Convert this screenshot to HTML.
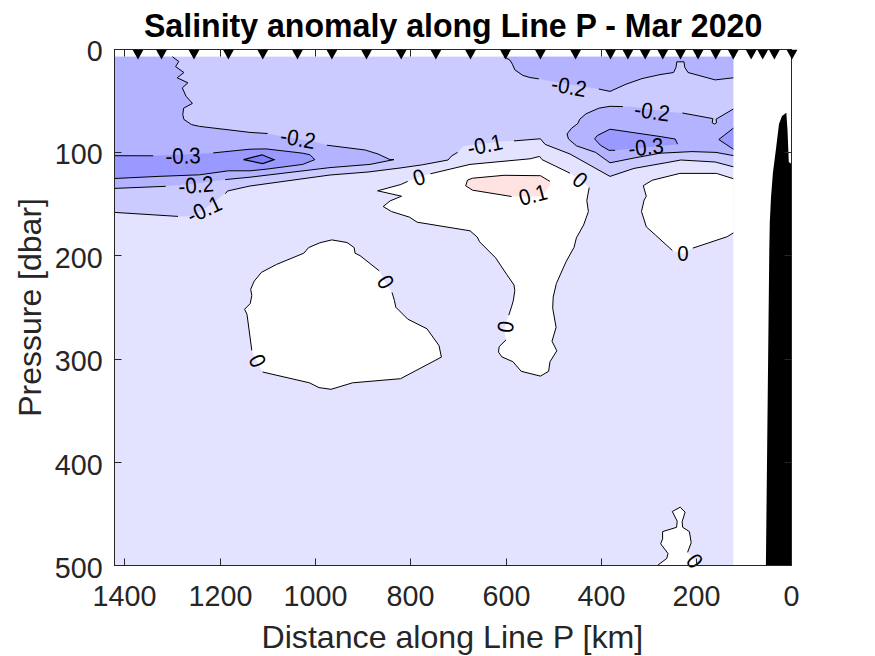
<!DOCTYPE html>
<html><head><meta charset="utf-8"><style>
html,body{margin:0;padding:0;background:#fff;width:875px;height:656px;overflow:hidden}
svg{display:block}
text{font-family:"Liberation Sans",sans-serif}
</style></head><body>
<svg width="875" height="656" viewBox="0 0 875 656">
<rect x="114.5" y="56.7" width="618.8" height="508.59999999999997" fill="#E3E3FF"/>
<polygon points="114.5,56.7 733.3,56.7 733.3,166.8 715.2,162.0 680.8,160.0 670.0,162.0 634.0,168.4 610.0,176.4 570.0,154.0 545.2,144.4 540.4,138.8 530.0,139.6 514.0,140.9 502.0,141.2 463.6,146.0 457.6,152.4 451.5,156.0 448.0,160.0 422.4,164.8 400.0,168.0 368.0,172.0 330.0,175.0 250.0,186.0 240.0,188.2 227.5,191.0 225.4,193.7 225.2,193.2 207.6,206.8 190.0,216.4 178.0,216.4 114.5,212.4" fill="#CBCBFF"/>
<polygon points="114.5,56.7 172.4,56.7 178.8,61.5 175.6,66.6 183.9,72.5 177.2,77.8 187.9,82.8 182.3,87.9 186.0,96.2 192.4,103.4 183.6,108.2 182.8,114.6 183.9,119.4 191.6,124.6 199.6,126.4 250.0,132.4 267.6,133.5 280.0,136.0 316.0,142.0 326.8,145.2 365.2,150.0 378.0,154.0 390.0,159.6 394.0,159.6 390.0,160.4 370.0,164.4 330.0,167.6 250.0,177.2 225.2,179.6 200.0,183.0 165.7,186.3 114.5,188.4" fill="#B3B3FF"/>
<polygon points="503.9,56.7 510.0,60.2 512.4,64.2 514.8,69.8 522.8,75.4 530.0,77.5 538.8,78.9 551.0,81.0 586.0,87.0 598.8,89.0 610.0,91.4 626.0,84.2 642.0,78.6 660.0,74.6 673.6,72.5 676.0,67.4 676.8,61.8 684.0,61.8 684.8,67.4 688.0,72.5 715.2,79.9 733.3,77.8 733.3,56.7" fill="#B3B3FF"/>
<polygon points="622.8,106.6 610.0,106.3 598.8,108.2 586.0,113.8 579.6,119.4 578.0,123.4 571.6,128.2 567.0,134.0 568.5,139.0 576.4,145.8 595.6,152.4 610.0,162.8 634.0,158.0 660.0,153.2 692.0,151.6 716.0,152.4 733.3,155.6 733.3,109.0 716.0,119.2 716.6,122.8 714.4,124.0 712.2,122.8 712.8,118.6 682.4,113.0 670.0,112.0 634.0,107.0" fill="#B3B3FF"/>
<polygon points="114.5,155.7 153.2,155.8 183.0,154.5 213.2,152.9 250.0,149.2 266.0,148.9 302.8,153.2 310.0,154.8 314.8,159.6 302.8,164.4 266.0,169.2 250.0,170.8 228.4,170.8 199.6,174.8 158.0,176.4 114.5,178.5" fill="#9999FF"/>
<polygon points="610.0,129.2 660.0,136.5 675.2,139.0 677.6,144.2 615.1,150.3 608.4,150.0 600.4,145.2 595.6,139.6 597.2,135.6" fill="#9999FF"/>
<polygon points="733.3,128.2 718.8,139.5 733.3,149.2" fill="#9999FF"/>
<polygon points="243.6,159.6 262.0,154.8 274.0,159.6 262.8,163.6" fill="#8080FF"/>
<polygon points="377.6,190.8 400.8,184.5 407.7,181.4 419.0,177.5 430.4,173.8 470.0,164.4 530.0,158.8 539.6,156.4 542.0,159.6 570.0,173.2 580.0,180.0 589.2,187.6 586.8,200.4 588.4,211.6 583.6,225.0 576.4,237.8 574.0,247.4 566.0,261.8 556.4,283.4 553.2,297.0 552.7,308.2 556.1,327.4 552.0,341.2 556.8,350.8 550.0,361.7 548.6,371.3 540.4,376.1 521.2,371.3 512.9,361.7 501.9,356.9 498.5,352.1 499.2,346.6 506.1,339.8 504.0,330.0 508.8,315.1 511.5,306.9 513.4,300.2 514.8,290.6 514.0,285.0 506.8,274.6 495.6,257.8 479.6,241.8 477.2,237.0 470.0,230.8 417.2,222.2 409.6,217.2 391.4,211.5 383.2,206.5 390.1,200.9 401.5,196.2 377.6,190.8" fill="#FFFFFF"/>
<polygon points="379.2,270.8 360.0,255.6 355.0,253.2 354.2,247.6 347.0,242.5 331.8,239.9 319.8,242.8 308.6,247.6 303.8,253.2 276.6,264.4 261.4,272.4 254.2,281.2 250.7,289.2 251.8,295.6 250.2,303.6 244.6,309.2 247.0,314.4 251.8,350.4 257.0,361.0 262.6,372.0 309.4,382.8 319.0,387.6 331.0,389.3 352.6,382.8 400.6,378.7 441.4,357.1 439.0,345.6 427.0,328.8 407.8,319.2 395.8,307.2 394.4,300.4 392.0,292.4 385.0,282.0" fill="#FFFFFF"/>
<polygon points="733.3,178.7 716.5,173.4 679.9,173.4 652.4,180.2 643.3,185.6 646.3,196.3 644.1,200.1 641.5,211.5 646.3,226.8 655.5,235.1 672.3,250.4 683.0,254.0 692.9,248.1 727.2,236.7 733.3,232.9" fill="#FFFFFF"/>
<polygon points="657.7,565.3 666.8,558.4 668.0,553.5 660.7,543.8 662.6,538.9 662.6,531.6 676.6,527.3 677.2,521.2 672.3,511.5 680.2,507.2 685.1,512.1 682.1,521.8 682.7,527.3 689.4,531.6 691.2,542.6 687.6,552.3 694.0,560.0 700.0,565.3" fill="#FFFFFF"/>
<polygon points="549.9,181.4 540.5,175.7 504.0,175.3 472.6,178.2 467.5,180.1 465.7,185.8 472.6,190.2 511.5,196.5 541.7,196.5 550.5,185.0" fill="#FFE2E2"/>
<polyline points="172.4,56.7 178.8,61.5 175.6,66.6 183.9,72.5 177.2,77.8 187.9,82.8 182.3,87.9 186.0,96.2 192.4,103.4 183.6,108.2 182.8,114.6 183.9,119.4 191.6,124.6 199.6,126.4 250.0,132.4 267.6,133.5" fill="none" stroke="#000" stroke-width="1.0" stroke-linejoin="round"/>
<polyline points="326.8,145.2 365.2,150.0 378.0,154.0 390.0,159.6 394.0,159.6 390.0,160.4 370.0,164.4 330.0,167.6 250.0,177.2 225.2,179.6" fill="none" stroke="#000" stroke-width="1.0" stroke-linejoin="round"/>
<polyline points="165.7,186.3 114.5,188.4" fill="none" stroke="#000" stroke-width="1.0" stroke-linejoin="round"/>
<polyline points="114.5,155.7 153.2,155.8" fill="none" stroke="#000" stroke-width="1.0" stroke-linejoin="round"/>
<polyline points="213.2,152.9 250.0,149.2 266.0,148.9 302.8,153.2 310.0,154.8 314.8,159.6 302.8,164.4 266.0,169.2 250.0,170.8 228.4,170.8 199.6,174.8 158.0,176.4 114.5,178.5" fill="none" stroke="#000" stroke-width="1.0" stroke-linejoin="round"/>
<polyline points="114.5,212.4 178.0,216.4" fill="none" stroke="#000" stroke-width="1.0" stroke-linejoin="round"/>
<polyline points="225.4,193.7 227.5,191.0 240.0,188.2 250.0,186.0 330.0,175.0 368.0,172.0 400.0,168.0 422.4,164.8 448.0,160.0 451.5,156.0 457.6,152.4" fill="none" stroke="#000" stroke-width="1.0" stroke-linejoin="round"/>
<polyline points="514.0,140.9 530.0,139.6 540.4,138.8 545.2,144.4 570.0,154.0 610.0,176.4 634.0,168.4 670.0,162.0 680.8,160.0 715.2,162.0 733.3,166.8" fill="none" stroke="#000" stroke-width="1.0" stroke-linejoin="round"/>
<polyline points="503.9,56.7 510.0,60.2 512.4,64.2 514.8,69.8 522.8,75.4 530.0,77.5 538.8,78.9" fill="none" stroke="#000" stroke-width="1.0" stroke-linejoin="round"/>
<polyline points="598.8,89.0 610.0,91.4 626.0,84.2 642.0,78.6 660.0,74.6 673.6,72.5 676.0,67.4 676.8,61.8 684.0,61.8 684.8,67.4 688.0,72.5 715.2,79.9 733.3,77.8" fill="none" stroke="#000" stroke-width="1.0" stroke-linejoin="round"/>
<polyline points="622.8,106.6 610.0,106.3 598.8,108.2 586.0,113.8 579.6,119.4 578.0,123.4 571.6,128.2 567.0,134.0 568.5,139.0 576.4,145.8 595.6,152.4 610.0,162.8 634.0,158.0 660.0,153.2 692.0,151.6 716.0,152.4 733.3,155.6" fill="none" stroke="#000" stroke-width="1.0" stroke-linejoin="round"/>
<polyline points="682.4,113.0 712.8,118.6 712.2,122.8 714.4,124.0 716.6,122.8 716.0,119.2 733.3,109.0" fill="none" stroke="#000" stroke-width="1.0" stroke-linejoin="round"/>
<polyline points="615.1,150.3 608.9,150.3 600.4,145.2 594.6,138.9 597.2,135.6 610.0,129.2 660.0,136.5 675.2,139.0 677.6,144.2" fill="none" stroke="#000" stroke-width="1.0" stroke-linejoin="round"/>
<polyline points="733.3,128.2 718.8,139.5 733.3,149.2" fill="none" stroke="#000" stroke-width="1.0" stroke-linejoin="round"/>
<polyline points="377.6,190.8 400.8,184.5 407.7,181.4" fill="none" stroke="#000" stroke-width="1.0" stroke-linejoin="round"/>
<polyline points="430.4,173.8 470.0,164.4 530.0,158.8 539.6,156.4 542.0,159.6 570.0,173.2" fill="none" stroke="#000" stroke-width="1.0" stroke-linejoin="round"/>
<polyline points="589.2,187.6 586.8,200.4 588.4,211.6 583.6,225.0 576.4,237.8 574.0,247.4 566.0,261.8 556.4,283.4 553.2,297.0 552.7,308.2 556.1,327.4 552.0,341.2 556.8,350.8 550.0,361.7 548.6,371.3 540.4,376.1 521.2,371.3 512.9,361.7 501.9,356.9 498.5,352.1 499.2,346.6 506.1,339.8" fill="none" stroke="#000" stroke-width="1.0" stroke-linejoin="round"/>
<polyline points="508.8,315.1 511.5,306.9 513.4,300.2 514.8,290.6 514.0,285.0 506.8,274.6 495.6,257.8 479.6,241.8 477.2,237.0 470.0,230.8 417.2,222.2 409.6,217.2 391.4,211.5 383.2,206.5 390.1,200.9 401.5,196.2 377.6,190.8" fill="none" stroke="#000" stroke-width="1.0" stroke-linejoin="round"/>
<polyline points="379.2,270.8 360.0,255.6 355.0,253.2 354.2,247.6 347.0,242.5 331.8,239.9 319.8,242.8 308.6,247.6 303.8,253.2 276.6,264.4 261.4,272.4 254.2,281.2 250.7,289.2 251.8,295.6 250.2,303.6 244.6,309.2 247.0,314.4 251.8,350.4" fill="none" stroke="#000" stroke-width="1.0" stroke-linejoin="round"/>
<polyline points="262.6,372.0 309.4,382.8 319.0,387.6 331.0,389.3 352.6,382.8 400.6,378.7 441.4,357.1 439.0,345.6 427.0,328.8 407.8,319.2 395.8,307.2 394.4,300.4 392.0,292.4" fill="none" stroke="#000" stroke-width="1.0" stroke-linejoin="round"/>
<polyline points="733.3,178.7 716.5,173.4 679.9,173.4 652.4,180.2 643.3,185.6 646.3,196.3 644.1,200.1 641.5,211.5 646.3,226.8 655.5,235.1 672.3,250.4" fill="none" stroke="#000" stroke-width="1.0" stroke-linejoin="round"/>
<polyline points="692.9,248.1 727.2,236.7 733.3,232.9" fill="none" stroke="#000" stroke-width="1.0" stroke-linejoin="round"/>
<polyline points="657.7,565.3 666.8,558.4 668.0,553.5 660.7,543.8 662.6,538.9 662.6,531.6 676.6,527.3 677.2,521.2 672.3,511.5 680.2,507.2 685.1,512.1 682.1,521.8 682.7,527.3 689.4,531.6 691.2,542.6 687.6,552.3" fill="none" stroke="#000" stroke-width="1.0" stroke-linejoin="round"/>
<polyline points="549.9,181.4 540.5,175.7 504.0,175.3 472.6,178.2 467.5,180.1 465.7,185.8 472.6,190.2 511.5,196.5" fill="none" stroke="#000" stroke-width="1.0" stroke-linejoin="round"/>
<polygon points="243.6,159.6 262.0,154.8 274.0,159.6 262.8,163.6" fill="none" stroke="#000" stroke-width="1.2"/>
<text transform="translate(298 138.5) rotate(10) scale(1 1.1)" x="0" y="7.0" text-anchor="middle" font-size="20.5" fill="#000">-0.2</text>
<text transform="translate(183 156) rotate(-2) scale(1 1.1)" x="0" y="7.0" text-anchor="middle" font-size="20.5" fill="#000">-0.3</text>
<text transform="translate(196 185.2) rotate(-5) scale(1 1.1)" x="0" y="7.0" text-anchor="middle" font-size="20.5" fill="#000">-0.2</text>
<text transform="translate(204.2 209.5) rotate(-25) scale(1 1.1)" x="0" y="7.0" text-anchor="middle" font-size="20.5" fill="#000">-0.1</text>
<text transform="translate(485 145) rotate(-12) scale(1 1.1)" x="0" y="7.0" text-anchor="middle" font-size="20.5" fill="#000">-0.1</text>
<text transform="translate(419 177.5) rotate(-18) scale(1 1.1)" x="0" y="7.0" text-anchor="middle" font-size="20.5" fill="#000">0</text>
<text transform="translate(569 86.5) rotate(10) scale(1 1.1)" x="0" y="7.0" text-anchor="middle" font-size="20.5" fill="#000">-0.2</text>
<text transform="translate(652 111.5) rotate(8) scale(1 1.1)" x="0" y="7.0" text-anchor="middle" font-size="20.5" fill="#000">-0.2</text>
<text transform="translate(646 147.2) rotate(-6) scale(1 1.1)" x="0" y="7.0" text-anchor="middle" font-size="20.5" fill="#000">-0.3</text>
<text transform="translate(533 195) rotate(-15) scale(1 1.1)" x="0" y="7.0" text-anchor="middle" font-size="20.5" fill="#000">0.1</text>
<text transform="translate(580 180) rotate(40) scale(1 1.1)" x="0" y="7.0" text-anchor="middle" font-size="20.5" fill="#000">0</text>
<text transform="translate(683 253) rotate(0) scale(1 1.1)" x="0" y="7.0" text-anchor="middle" font-size="20.5" fill="#000">0</text>
<text transform="translate(385.6 282) rotate(60) scale(1 1.1)" x="0" y="7.0" text-anchor="middle" font-size="20.5" fill="#000">0</text>
<text transform="translate(257.5 361) rotate(65) scale(1 1.1)" x="0" y="7.0" text-anchor="middle" font-size="20.5" fill="#000">0</text>
<text transform="translate(505.7 326.7) rotate(-82) scale(1 1.1)" x="0" y="7.0" text-anchor="middle" font-size="20.5" fill="#000">0</text>
<text transform="translate(694.6 561) rotate(54) scale(1 1.1)" x="0" y="7.0" text-anchor="middle" font-size="20.5" fill="#000">0</text>
<polygon points="765.9,565.3 769.3,250.0 769.8,222.0 771.0,197.6 772.9,173.0 776.0,148.8 779.0,124.0 782.0,116.0 786.3,112.7 787.5,130.0 788.8,162.0 791.5,164.0 792.0,164.0 792.0,565.3" fill="#000"/>
<rect x="114.5" y="49.5" width="677" height="516" fill="none" stroke="#262626" stroke-width="1"/>
<line x1="124.5" y1="565" x2="124.5" y2="558.5" stroke="#262626" stroke-width="1"/>
<line x1="124.5" y1="50" x2="124.5" y2="56.5" stroke="#262626" stroke-width="1"/>
<line x1="220.5" y1="565" x2="220.5" y2="558.5" stroke="#262626" stroke-width="1"/>
<line x1="220.5" y1="50" x2="220.5" y2="56.5" stroke="#262626" stroke-width="1"/>
<line x1="315.5" y1="565" x2="315.5" y2="558.5" stroke="#262626" stroke-width="1"/>
<line x1="315.5" y1="50" x2="315.5" y2="56.5" stroke="#262626" stroke-width="1"/>
<line x1="410.5" y1="565" x2="410.5" y2="558.5" stroke="#262626" stroke-width="1"/>
<line x1="410.5" y1="50" x2="410.5" y2="56.5" stroke="#262626" stroke-width="1"/>
<line x1="506.5" y1="565" x2="506.5" y2="558.5" stroke="#262626" stroke-width="1"/>
<line x1="506.5" y1="50" x2="506.5" y2="56.5" stroke="#262626" stroke-width="1"/>
<line x1="601.5" y1="565" x2="601.5" y2="558.5" stroke="#262626" stroke-width="1"/>
<line x1="601.5" y1="50" x2="601.5" y2="56.5" stroke="#262626" stroke-width="1"/>
<line x1="696.5" y1="565" x2="696.5" y2="558.5" stroke="#262626" stroke-width="1"/>
<line x1="696.5" y1="50" x2="696.5" y2="56.5" stroke="#262626" stroke-width="1"/>
<line x1="791.5" y1="565" x2="791.5" y2="558.5" stroke="#262626" stroke-width="1"/>
<line x1="791.5" y1="50" x2="791.5" y2="56.5" stroke="#262626" stroke-width="1"/>
<line x1="115" y1="49.5" x2="121.5" y2="49.5" stroke="#262626" stroke-width="1"/>
<line x1="791" y1="49.5" x2="784.5" y2="49.5" stroke="#262626" stroke-width="1"/>
<line x1="115" y1="152.5" x2="121.5" y2="152.5" stroke="#262626" stroke-width="1"/>
<line x1="791" y1="152.5" x2="784.5" y2="152.5" stroke="#262626" stroke-width="1"/>
<line x1="115" y1="255.5" x2="121.5" y2="255.5" stroke="#262626" stroke-width="1"/>
<line x1="791" y1="255.5" x2="784.5" y2="255.5" stroke="#262626" stroke-width="1"/>
<line x1="115" y1="359.5" x2="121.5" y2="359.5" stroke="#262626" stroke-width="1"/>
<line x1="791" y1="359.5" x2="784.5" y2="359.5" stroke="#262626" stroke-width="1"/>
<line x1="115" y1="462.5" x2="121.5" y2="462.5" stroke="#262626" stroke-width="1"/>
<line x1="791" y1="462.5" x2="784.5" y2="462.5" stroke="#262626" stroke-width="1"/>
<line x1="115" y1="565.5" x2="121.5" y2="565.5" stroke="#262626" stroke-width="1"/>
<line x1="791" y1="565.5" x2="784.5" y2="565.5" stroke="#262626" stroke-width="1"/>
<polygon points="132.6,49.8 143.4,49.8 138.0,59.4" fill="#000"/>
<polygon points="156.1,49.8 166.9,49.8 161.5,59.4" fill="#000"/>
<polygon points="188.6,49.8 199.4,49.8 194.0,59.4" fill="#000"/>
<polygon points="223.0,49.8 233.8,49.8 228.4,59.4" fill="#000"/>
<polygon points="257.4,49.8 268.2,49.8 262.8,59.4" fill="#000"/>
<polygon points="292.1,49.8 302.9,49.8 297.5,59.4" fill="#000"/>
<polygon points="326.5,49.8 337.3,49.8 331.9,59.4" fill="#000"/>
<polygon points="361.1,49.8 371.9,49.8 366.5,59.4" fill="#000"/>
<polygon points="395.8,49.8 406.6,49.8 401.2,59.4" fill="#000"/>
<polygon points="430.5,49.8 441.3,49.8 435.9,59.4" fill="#000"/>
<polygon points="465.1,49.8 475.9,49.8 470.5,59.4" fill="#000"/>
<polygon points="500.1,49.8 510.9,49.8 505.5,59.4" fill="#000"/>
<polygon points="535.0,49.8 545.8,49.8 540.4,59.4" fill="#000"/>
<polygon points="570.2,49.8 581.0,49.8 575.6,59.4" fill="#000"/>
<polygon points="605.1,49.8 615.9,49.8 610.5,59.4" fill="#000"/>
<polygon points="622.5,49.8 633.3,49.8 627.9,59.4" fill="#000"/>
<polygon points="639.8,49.8 650.6,49.8 645.2,59.4" fill="#000"/>
<polygon points="657.4,49.8 668.2,49.8 662.8,59.4" fill="#000"/>
<polygon points="675.1,49.8 685.9,49.8 680.5,59.4" fill="#000"/>
<polygon points="692.7,49.8 703.5,49.8 698.1,59.4" fill="#000"/>
<polygon points="710.3,49.8 721.1,49.8 715.7,59.4" fill="#000"/>
<polygon points="727.9,49.8 738.7,49.8 733.3,59.4" fill="#000"/>
<polygon points="745.8,49.8 756.6,49.8 751.2,59.4" fill="#000"/>
<polygon points="757.3,49.8 768.1,49.8 762.7,59.4" fill="#000"/>
<polygon points="769.0,49.8 779.8,49.8 774.4,59.4" fill="#000"/>
<polygon points="786.6,49.8 797.4,49.8 792.0,59.4" fill="#000"/>
<text transform="translate(124.5 606) scale(1 1.036)" text-anchor="middle" font-size="28.7" fill="#262626">1400</text>
<text transform="translate(220.5 606) scale(1 1.036)" text-anchor="middle" font-size="28.7" fill="#262626">1200</text>
<text transform="translate(315.5 606) scale(1 1.036)" text-anchor="middle" font-size="28.7" fill="#262626">1000</text>
<text transform="translate(410.5 606) scale(1 1.036)" text-anchor="middle" font-size="28.7" fill="#262626">800</text>
<text transform="translate(506.5 606) scale(1 1.036)" text-anchor="middle" font-size="28.7" fill="#262626">600</text>
<text transform="translate(601.5 606) scale(1 1.036)" text-anchor="middle" font-size="28.7" fill="#262626">400</text>
<text transform="translate(696.5 606) scale(1 1.036)" text-anchor="middle" font-size="28.7" fill="#262626">200</text>
<text transform="translate(791.5 606) scale(1 1.036)" text-anchor="middle" font-size="28.7" fill="#262626">0</text>
<text transform="translate(102.7 60.6) scale(1 1.036)" text-anchor="end" font-size="28.7" fill="#262626">0</text>
<text transform="translate(102.7 164.2) scale(1 1.036)" text-anchor="end" font-size="28.7" fill="#262626">100</text>
<text transform="translate(102.7 267.5) scale(1 1.036)" text-anchor="end" font-size="28.7" fill="#262626">200</text>
<text transform="translate(102.7 371.1) scale(1 1.036)" text-anchor="end" font-size="28.7" fill="#262626">300</text>
<text transform="translate(102.7 475.0) scale(1 1.036)" text-anchor="end" font-size="28.7" fill="#262626">400</text>
<text transform="translate(102.7 578.2) scale(1 1.036)" text-anchor="end" font-size="28.7" fill="#262626">500</text>
<text transform="translate(452.35 647.9) scale(1 1.0)" text-anchor="middle" font-size="32.15" fill="#262626">Distance along Line P [km]</text>
<text transform="translate(41.3 307.45) rotate(-90) scale(1 1.0)" text-anchor="middle" font-size="32" fill="#262626">Pressure [dbar]</text>
<text transform="translate(453.1 37) scale(1 1.03)" text-anchor="middle" font-size="32.1" font-weight="bold" fill="#000">Salinity anomaly along Line P - Mar 2020</text>
</svg></body></html>
